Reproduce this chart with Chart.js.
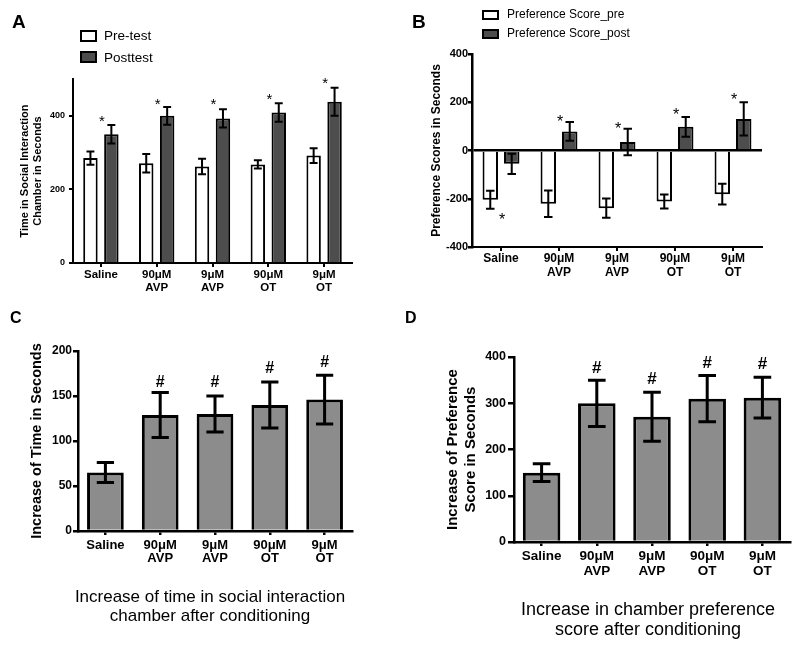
<!DOCTYPE html>
<html>
<head>
<meta charset="utf-8">
<script src="https://cdn.jsdelivr.net/npm/chart.js@4.4.1/dist/chart.umd.min.js"></script>
<style>
  body { margin: 0; width: 800px; height: 649px; position: relative; background: #fff; overflow: hidden;
         font-family: "Liberation Sans", Arial, sans-serif; color: #000; }
  canvas { position: absolute; }
  .txt { position: absolute; white-space: nowrap; }
  .letter { font-weight: bold; line-height: 1; }
  .key { position: absolute; box-sizing: border-box; border: 2px solid #000; }
  .note { position: absolute; text-align: center; }
</style>
</head>
<body>
<canvas id="chartA" width="400" height="320" style="left:0;top:0"></canvas>
<canvas id="chartB" width="400" height="320" style="left:400px;top:0"></canvas>
<canvas id="chartC" width="400" height="329" style="left:0;top:320px"></canvas>
<canvas id="chartD" width="400" height="329" style="left:400px;top:320px"></canvas>

<div class="txt letter" style="left:12px;top:12px;font-size:19px">A</div>
<div class="txt letter" style="left:412px;top:12px;font-size:19px">B</div>
<div class="txt letter" style="left:10px;top:310px;font-size:16px">C</div>
<div class="txt letter" style="left:405px;top:310px;font-size:16px">D</div>

<div class="key" style="left:80px;top:30px;width:17px;height:12px;background:#fff"></div>
<div class="key" style="left:80px;top:51px;width:17px;height:12px;background:#4d4d4d"></div>
<div class="txt" style="left:104px;top:29px;font-size:13.5px;line-height:13.5px">Pre-test</div>
<div class="txt" style="left:104px;top:51px;font-size:13.5px;line-height:13.5px">Posttest</div>

<div class="key" style="left:482px;top:10px;width:17px;height:10px;background:#fff"></div>
<div class="key" style="left:482px;top:29px;width:17px;height:10px;background:#4d4d4d"></div>
<div class="txt" style="left:507px;top:8px;font-size:12px;line-height:12px">Preference Score_pre</div>
<div class="txt" style="left:507px;top:27px;font-size:12px;line-height:12px">Preference Score_post</div>

<div class="note" style="left:40px;width:340px;top:587px;font-size:17px;line-height:19px">Increase of time in social interaction<br>chamber after conditioning</div>
<div class="note" style="left:478px;width:340px;top:599px;font-size:18px;line-height:20px">Increase in chamber preference<br>score after conditioning</div>

<script>
// groups on every panel
const groups = ['Saline', ['90μM', 'AVP'], ['9μM', 'AVP'], ['90μM', 'OT'], ['9μM', 'OT']];

// A: time in social interaction chamber (s), mean and SEM
const timePre = [285, 271, 262, 268, 292];
const timePreErr = [18, 25, 21, 11, 20];
const timePost = [350, 400, 393, 409, 438];
const timePostErr = [25, 24, 25, 25, 38];
const timeStars = [395, 443, 443, 455, 500];

// B: preference scores (s)
const prefPre = [-204, -221, -239, -211, -181];
const prefPreErr = [37, 55, 40, 29, 43];
const prefPost = [-55, 79, 35, 98, 131];
const prefPostErr = [42, 39, 55, 41, 69];
const prefStars = [-271, 134, 107, 165, 226];

// C: increase of time (s)
const timeGain = [65, 129, 130, 140, 146];
const timeGainErr = [11, 25, 20, 25.5, 27];
const timeGainHash = [null, 167, 166, 182, 189];

// D: increase of preference score (s)
const prefGain = [150, 300, 271, 310, 312];
const prefGainErr = [19, 50, 53, 50, 44];
const prefGainHash = [null, 379, 355, 389, 387];

const FONT = '"Liberation Sans", Arial, sans-serif';
Chart.defaults.font.family = FONT;
Chart.defaults.color = '#000';

// SEM whiskers on top of each bar
const errorBars = {
  id: 'errorBars',
  afterDatasetsDraw(chart, args, opts) {
    const ctx = chart.ctx;
    const yScale = chart.scales.y;
    chart.data.datasets.forEach((ds, i) => {
      if (!ds.errors) return;
      chart.getDatasetMeta(i).data.forEach((bar, j) => {
        const v = ds.data[j];
        const e = ds.errors[j];
        const top = yScale.getPixelForValue(v + e);
        const bot = yScale.getPixelForValue(v - e);
        const half = bar.width * opts.cap / 2;
        ctx.save();
        ctx.strokeStyle = '#000';
        ctx.lineWidth = opts.width;
        ctx.beginPath();
        ctx.moveTo(bar.x, top); ctx.lineTo(bar.x, bot);
        ctx.moveTo(bar.x - half, top); ctx.lineTo(bar.x + half, top);
        ctx.moveTo(bar.x - half, bot); ctx.lineTo(bar.x + half, bot);
        ctx.stroke();
        ctx.restore();
      });
    });
  }
};

// significance marks (* or #) over each group
const marks = {
  id: 'marks',
  afterDatasetsDraw(chart, args, opts) {
    if (!opts.values) return;
    const { ctx, scales: { x, y } } = chart;
    ctx.save();
    ctx.font = opts.font;
    ctx.fillStyle = '#000';
    ctx.textAlign = 'center';
    ctx.textBaseline = 'alphabetic';
    opts.values.forEach((v, i) => {
      if (v === null) return;
      ctx.fillText(opts.symbol, x.getPixelForValue(i) + (opts.dx || 0), y.getPixelForValue(v) + opts.lift);
    });
    ctx.restore();
  }
};

Chart.register(errorBars, marks);

function groupAxis(size, lineHeight, height, pad, width) {
  return {
    ticks: { font: { size: size, weight: 'bold', lineHeight: lineHeight }, padding: pad, maxRotation: 0, autoSkip: false },
    grid: { offset: false, drawOnChartArea: false, color: '#000', lineWidth: width, tickLength: 4 },
    border: { color: '#000', width: width },
    afterFit: (s) => { s.height = height; }
  };
}

function valueAxis(o) {
  return {
    min: o.min,
    max: o.max,
    ticks: { stepSize: o.step, font: { size: o.size, weight: 'bold' }, padding: o.pad },
    afterBuildTicks: (s) => { s.ticks = s.ticks.filter((t) => t.value % o.step === 0); },
    grid: {
      drawOnChartArea: !!o.zero,
      color: (c) => (o.zero && c.tick && c.tick.value === 0 ? '#000' : (o.zero ? 'rgba(0,0,0,0)' : '#000')),
      tickColor: '#000',
      lineWidth: o.width,
      tickLength: o.tick
    },
    border: { color: '#000', width: o.width },
    title: { display: true, text: o.title, font: { size: o.titleSize, weight: 'bold' }, padding: { top: o.titlePad, bottom: 0 } },
    afterFit: (s) => { s.width = o.fit; }
  };
}

const common = { responsive: false, animation: false, events: [] };

// A
new Chart(document.getElementById('chartA'), {
  type: 'bar',
  data: {
    labels: groups,
    datasets: [
      { label: 'Pre-test', data: timePre, errors: timePreErr, backgroundColor: '#fff', borderColor: '#000',
        borderWidth: 2, barPercentage: 0.69, categoryPercentage: 0.75 },
      { label: 'Posttest', data: timePost, errors: timePostErr, backgroundColor: '#4d4d4d', borderColor: '#000',
        borderWidth: 2, barPercentage: 0.69, categoryPercentage: 0.75 }
    ]
  },
  options: Object.assign({}, common, {
    layout: { padding: { top: 79, right: 48, left: 0, bottom: 0 } },
    plugins: {
      legend: { display: false },
      tooltip: { enabled: false },
      errorBars: { width: 2, cap: 0.55 },
      marks: { symbol: '*', values: timeStars, font: '15px ' + FONT, lift: 8.7, dx: 1 }
    },
    scales: {
      x: groupAxis(11.5, 1.1, 57, 2, 2),
      y: valueAxis({ min: 0, max: 500, step: 200, size: 9, pad: 4, width: 2, tick: 4,
        title: ['Time in Social Interaction', 'Chamber in Seconds'], titleSize: 11, titlePad: 18.4, fit: 73 })
    }
  })
});

// B
new Chart(document.getElementById('chartB'), {
  type: 'bar',
  data: {
    labels: groups,
    datasets: [
      { label: 'Preference Score_pre', data: prefPre, errors: prefPreErr, backgroundColor: '#fff', borderColor: '#000',
        borderWidth: 2, barPercentage: 0.72, categoryPercentage: 0.74 },
      { label: 'Preference Score_post', data: prefPost, errors: prefPostErr, backgroundColor: '#4d4d4d', borderColor: '#000',
        borderWidth: 2, barPercentage: 0.72, categoryPercentage: 0.74 }
    ]
  },
  options: Object.assign({}, common, {
    layout: { padding: { top: 54, right: 38, left: 0, bottom: 0 } },
    plugins: {
      legend: { display: false },
      tooltip: { enabled: false },
      errorBars: { width: 2, cap: 0.55 },
      marks: { symbol: '*', values: prefStars, font: '16px ' + FONT, lift: 9.3, dx: 1 }
    },
    scales: {
      x: groupAxis(12, 1.15, 73, 1, 2),
      y: valueAxis({ min: -400, max: 400, step: 200, size: 11, pad: 0, width: 2.5, tick: 4, zero: true,
        title: 'Preference Scores in Seconds', titleSize: 12, titlePad: 29.8, fit: 72 })
    }
  })
});

// C
new Chart(document.getElementById('chartC'), {
  type: 'bar',
  data: {
    labels: groups,
    datasets: [
      { label: 'Increase of time', data: timeGain, errors: timeGainErr, backgroundColor: '#8c8c8c', borderColor: '#000',
        borderWidth: 3, barPercentage: 0.67, categoryPercentage: 1 }
    ]
  },
  options: Object.assign({}, common, {
    layout: { padding: { top: 31, right: 48, left: 0, bottom: 0 } },
    plugins: {
      legend: { display: false },
      tooltip: { enabled: false },
      errorBars: { width: 3, cap: 0.47 },
      marks: { symbol: '#', values: timeGainHash, font: 'bold 16px ' + FONT, lift: 5.8 }
    },
    scales: {
      x: groupAxis(13, 1.03, 118, 3.5, 2.5),
      y: valueAxis({ min: 0, max: 200, step: 50, size: 12, pad: 1, width: 2.5, tick: 5,
        title: 'Increase of Time in Seconds', titleSize: 14.5, titlePad: 28.6, fit: 78 })
    }
  })
});

// D
new Chart(document.getElementById('chartD'), {
  type: 'bar',
  data: {
    labels: groups,
    datasets: [
      { label: 'Increase of preference score', data: prefGain, errors: prefGainErr, backgroundColor: '#8c8c8c', borderColor: '#000',
        borderWidth: 3, barPercentage: 0.68, categoryPercentage: 1 }
    ]
  },
  options: Object.assign({}, common, {
    layout: { padding: { top: 37, right: 10, left: 0, bottom: 0 } },
    plugins: {
      legend: { display: false },
      tooltip: { enabled: false },
      errorBars: { width: 3, cap: 0.47 },
      marks: { symbol: '#', values: prefGainHash, font: 'bold 17px ' + FONT, lift: 6.1 }
    },
    scales: {
      x: groupAxis(13.5, 1.07, 107, 3.5, 2.5),
      y: valueAxis({ min: 0, max: 400, step: 100, size: 12.5, pad: 2, width: 2.5, tick: 6,
        title: ['Increase of Preference', 'Score in Seconds'], titleSize: 15, titlePad: 43.7, fit: 114 })
    }
  })
});
</script>
</body>
</html>
